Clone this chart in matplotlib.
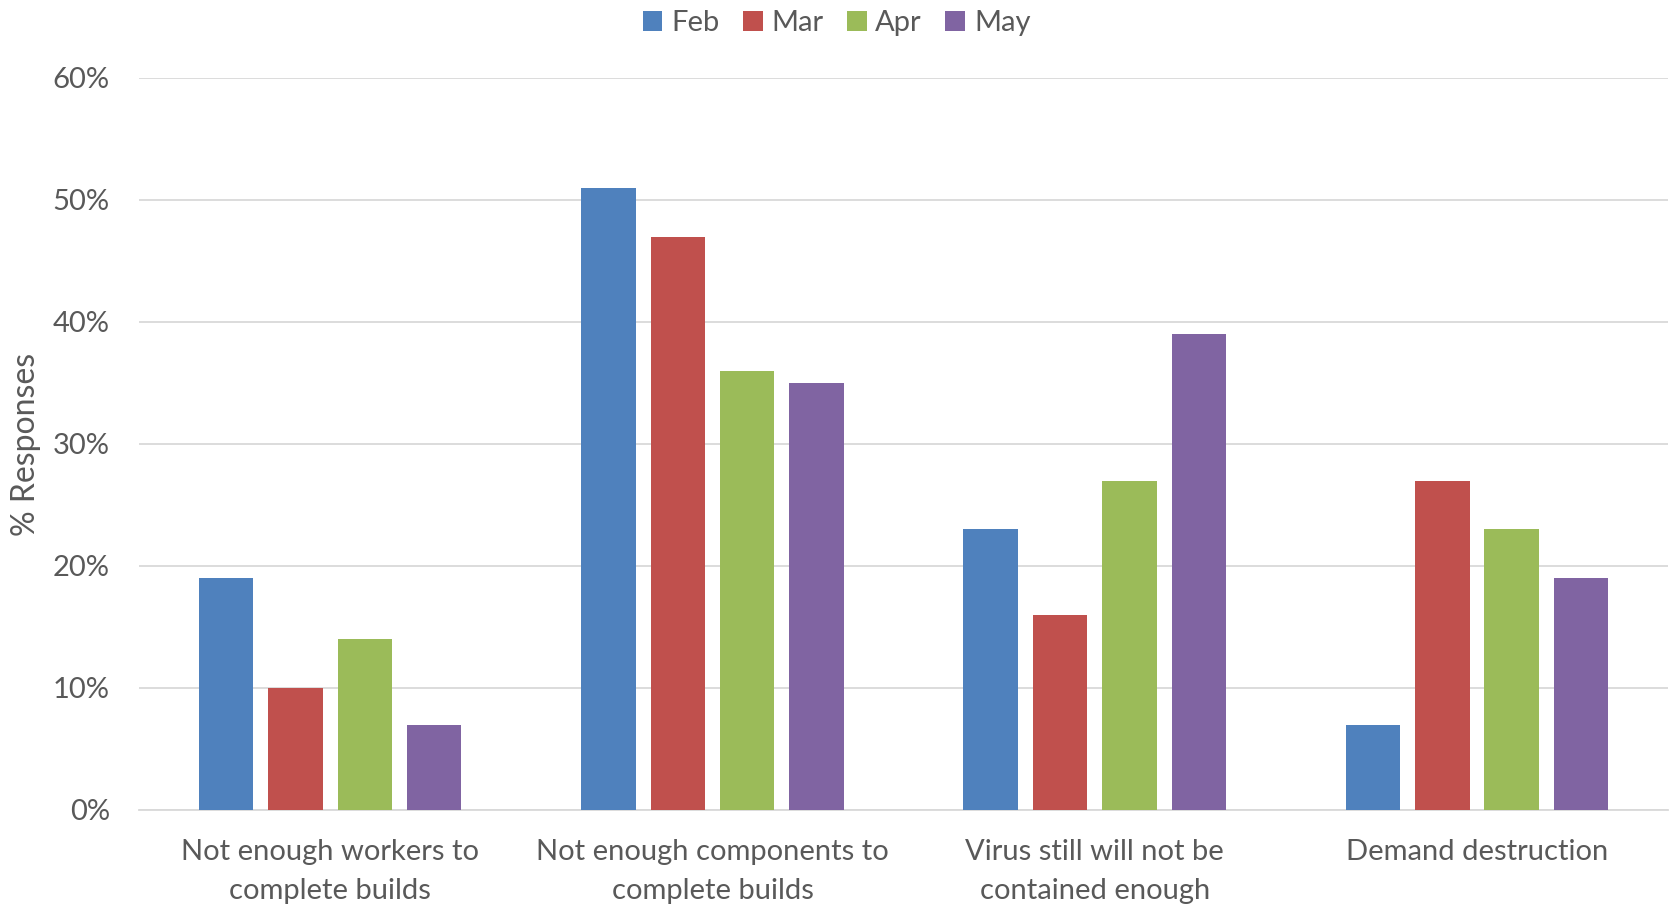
import matplotlib.pyplot as plt
import numpy as np
from matplotlib.ticker import PercentFormatter

categories = [
    "Not enough workers to\ncomplete builds",
    "Not enough components to\ncomplete builds",
    "Virus still will not be\ncontained enough",
    "Demand destruction",
]
months = ["Feb", "Mar", "Apr", "May"]
feb = [0.19, 0.51, 0.23, 0.07]
mar = [0.10, 0.47, 0.16, 0.27]
apr = [0.14, 0.36, 0.27, 0.23]
may = [0.07, 0.35, 0.39, 0.19]
series = [feb, mar, apr, may]
colors = ["#4F81BD", "#C0504D", "#9BBB59", "#8064A2"]

plt.rcParams["font.family"] = ["Lato", "DejaVu Sans"]
text_color = "#595959"

fig = plt.figure(figsize=(16.73, 9.06), dpi=100)
ax = fig.add_axes([0.0831, 0.106, 0.914, 0.808])

x = np.arange(len(categories))
bar_w = 0.1425
step = 0.1815
offsets = (np.arange(len(months)) - 1.5) * step
for vals, off, col, name in zip(series, offsets, colors, months):
    ax.bar(x + off, vals, width=bar_w, color=col, label=name, zorder=3)

ax.set_xlim(-0.5, len(categories) - 0.5)
ax.set_ylim(0, 0.6)
ax.set_yticks(np.arange(0, 0.61, 0.1))
ax.yaxis.set_major_formatter(PercentFormatter(1.0, decimals=0))
ax.grid(axis="y", color="#D9D9D9", linewidth=1.3, zorder=0)
ax.set_xticks(x)
ax.set_xticklabels(categories, fontsize=21, color=text_color, linespacing=1.6)
ax.tick_params(axis="both", length=0, colors=text_color, labelsize=21)
ax.tick_params(axis="x", pad=21)
ax.tick_params(axis="y", pad=21)
for s in ["top", "right", "left"]:
    ax.spines[s].set_visible(False)
ax.spines["bottom"].set_color("#D9D9D9")
ax.spines["bottom"].set_linewidth(1.3)

ax.set_ylabel("% Responses", fontsize=23, color=text_color)
ax.yaxis.set_label_coords(-0.064, 0.5)

fig.legend(loc="upper center", bbox_to_anchor=(0.5, 1.018), ncol=4, frameon=False,
           fontsize=21, handlelength=0.68, handleheight=0.68, handletextpad=0.3,
           columnspacing=0.8, labelcolor=text_color)

fig.savefig("out.png", dpi=100)
